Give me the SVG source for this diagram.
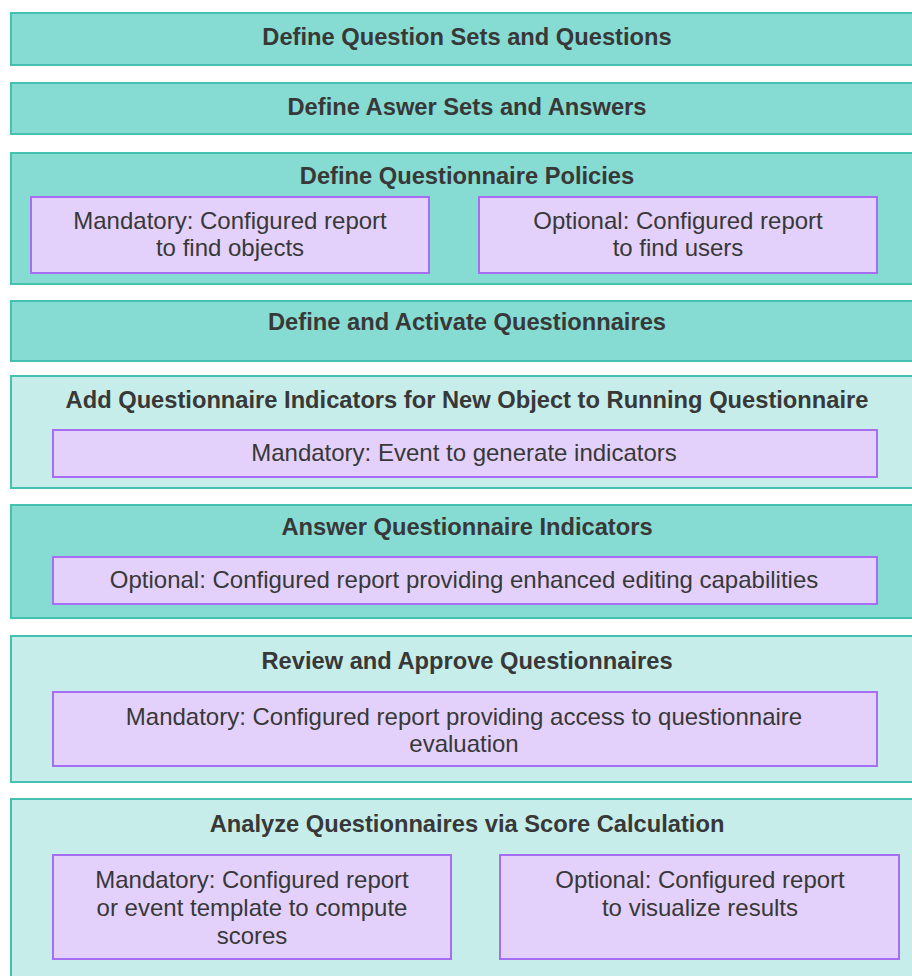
<svg xmlns="http://www.w3.org/2000/svg" width="912" height="976" viewBox="0 0 912 976">
<style>
.dark{fill:#86dbd3;stroke:#45c1b2;stroke-width:2}
.light{fill:#c6ede9;stroke:#45c1b2;stroke-width:2}
.sub{fill:#e3d1fb;stroke:#a66ef2;stroke-width:2}
.t{font-family:"Liberation Sans",Arial,sans-serif;font-size:23.7px;font-weight:bold;fill:#383838;text-anchor:middle}
.b{font-family:"Liberation Sans",Arial,sans-serif;font-size:24px;fill:#383838;text-anchor:middle}
</style>
<rect width="912" height="976" fill="#ffffff"/>
<g id="n1"><rect class="dark" x="11" y="13" width="914" height="52"/><text class="t" x="467" y="45">Define Question Sets and Questions</text></g>
<g id="n2"><rect class="dark" x="11" y="83" width="914" height="51"/><text class="t" x="467" y="115">Define Aswer Sets and Answers</text></g>
<g id="n3"><rect class="dark" x="11" y="153" width="914" height="131"/><text class="t" x="467" y="184">Define Questionnaire Policies</text>
<g id="n3a"><rect class="sub" x="31" y="197" width="398" height="76"/><text class="b" x="230" y="229">Mandatory: Configured report</text><text class="b" x="230" y="256">to find objects</text></g>
<g id="n3b"><rect class="sub" x="479" y="197" width="398" height="76"/><text class="b" x="678" y="229">Optional: Configured report</text><text class="b" x="678" y="256">to find users</text></g></g>
<g id="n4"><rect class="dark" x="11" y="301" width="914" height="60"/><text class="t" x="467" y="330">Define and Activate Questionnaires</text></g>
<g id="n5"><rect class="light" x="11" y="376" width="914" height="112"/><text class="t" x="467" y="408">Add Questionnaire Indicators for New Object to Running Questionnaire</text>
<g id="n5a"><rect class="sub" x="53" y="430" width="824" height="47"/><text class="b" x="464" y="461">Mandatory: Event to generate indicators</text></g></g>
<g id="n6"><rect class="dark" x="11" y="505" width="914" height="113"/><text class="t" x="467" y="535">Answer Questionnaire Indicators</text>
<g id="n6a"><rect class="sub" x="53" y="557" width="824" height="47"/><text class="b" x="464" y="588">Optional: Configured report providing enhanced editing capabilities</text></g></g>
<g id="n7"><rect class="light" x="11" y="636" width="914" height="146"/><text class="t" x="467" y="669">Review and Approve Questionnaires</text>
<g id="n7a"><rect class="sub" x="53" y="692" width="824" height="74"/><text class="b" x="464" y="725">Mandatory: Configured report providing access to questionnaire</text><text class="b" x="464" y="752">evaluation</text></g></g>
<g id="n8"><rect class="light" x="11" y="799" width="914" height="190"/><text class="t" x="467" y="832">Analyze Questionnaires via Score Calculation</text>
<g id="n8a"><rect class="sub" x="53" y="855" width="398" height="104"/><text class="b" x="252" y="888">Mandatory: Configured report</text><text class="b" x="252" y="916">or event template to compute</text><text class="b" x="252" y="944">scores</text></g>
<g id="n8b"><rect class="sub" x="500" y="855" width="399" height="104"/><text class="b" x="700" y="888">Optional: Configured report</text><text class="b" x="700" y="916">to visualize results</text></g></g>
<g id="connectors"></g>
</svg>
